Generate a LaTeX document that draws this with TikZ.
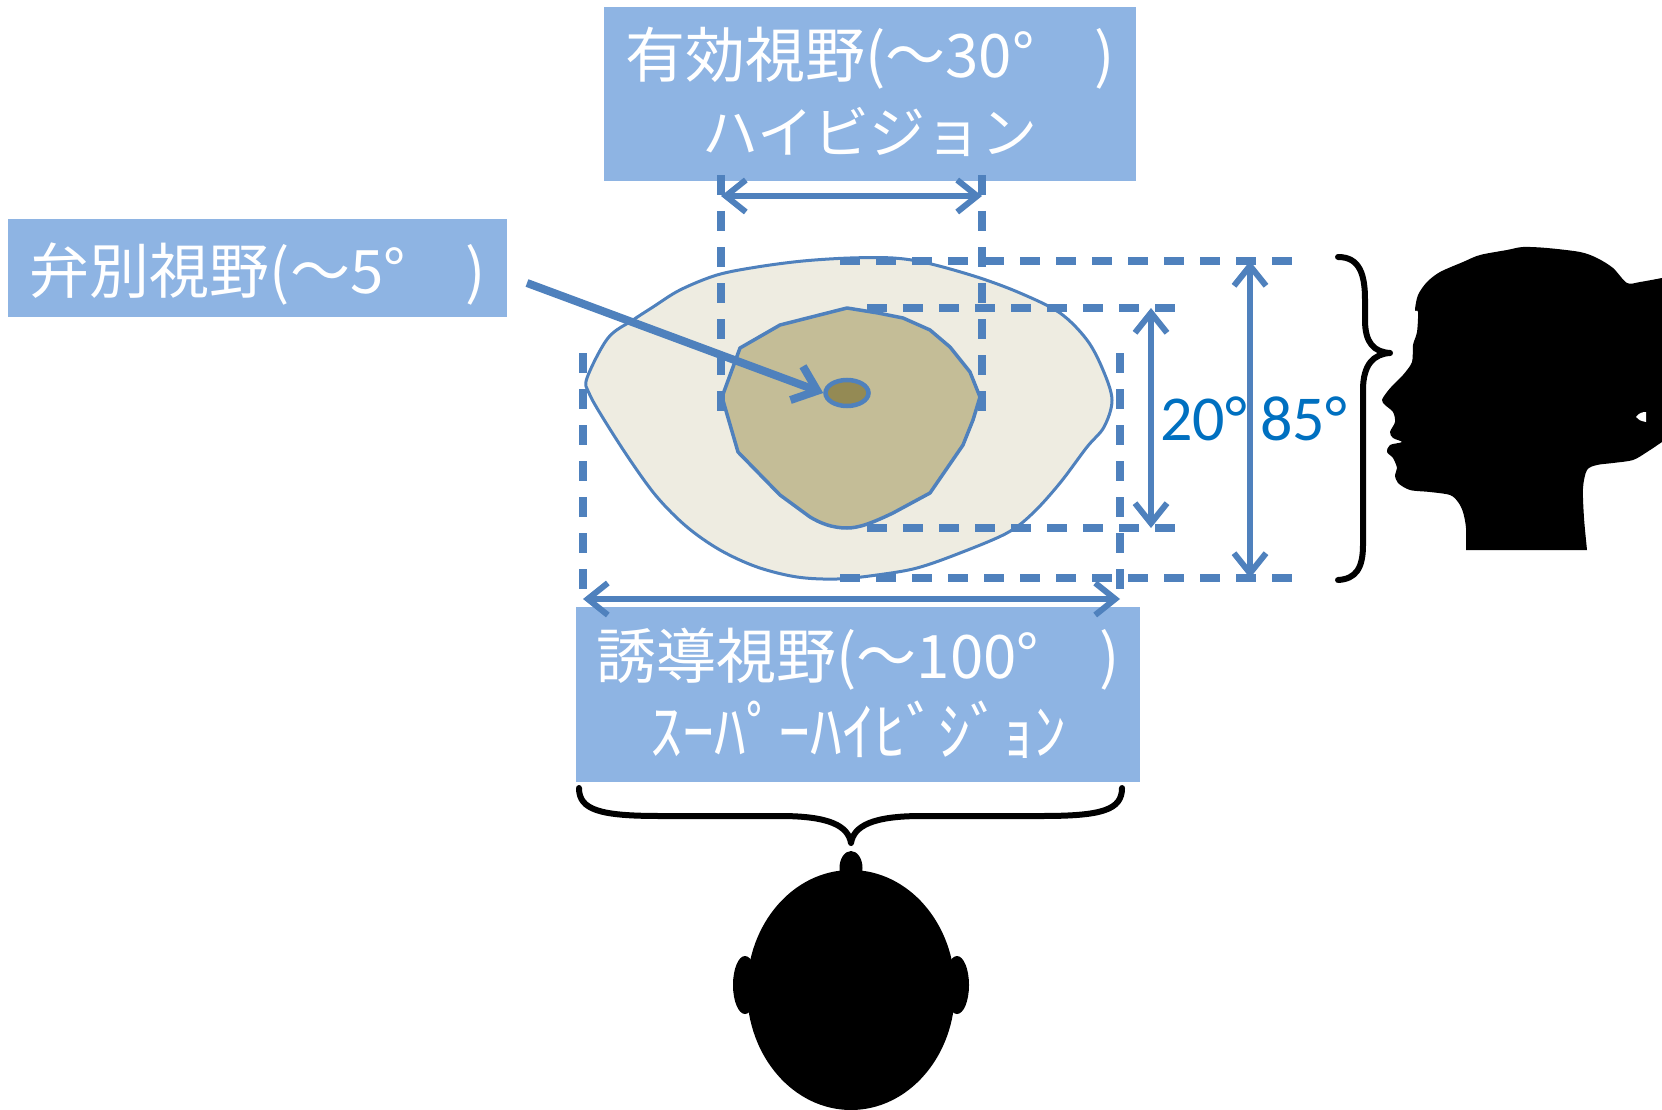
\documentclass[tikz,border=0pt]{standalone}
\usepackage{fontspec}
\newfontfamily\jpfont{Noto Sans CJK JP}
\newfontfamily\numfont{Carlito}
\usetikzlibrary{arrows.meta,shapes.geometric}
\definecolor{boxblue}{RGB}{142,180,227}
\definecolor{lineblue}{RGB}{79,129,189}
\definecolor{outerfill}{RGB}{238,236,225}
\definecolor{innerfill}{RGB}{196,189,151}
\definecolor{dotfill}{RGB}{148,138,84}
\definecolor{degblue}{RGB}{0,112,192}
\begin{document}
\begin{tikzpicture}[x=1pt,y=-1pt,
  box/.style={fill=boxblue, draw=none, inner sep=0pt},
  lbl/.style={text=white, inner sep=0pt, anchor=base},
  bigjp/.style={font={\jpfont\fontsize{60}{72}\selectfont}},
  guide/.style={draw=lineblue, line width=8pt, dash pattern=on 20pt off 16pt},
  barb/.tip={Straight Barb[length=20pt,width=32pt]},
  dim/.style={draw=lineblue, line width=6pt, barb-barb},
  pointer/.style={draw=lineblue, line width=8pt, -{Straight Barb[length=22pt,width=36pt]}},
  deg/.style={text=degblue, inner sep=0pt, anchor=base west,
    font={\numfont\fontsize{64}{70}\selectfont}},
  brace/.style={draw=black, line width=6pt, line cap=round, line join=round},
  region/.style={draw=lineblue, line join=round}]

% canvas
\fill[white] (0,0) rectangle (1662,1110);
\useasboundingbox (0,0) rectangle (1662,1110);

% label boxes
\node[box, minimum width=532pt, minimum height=174pt] (topbox) at (870,94) {};
\node[box, minimum width=499pt, minimum height=98pt] (leftbox) at (257.5,268) {};
\node[box, minimum width=564pt, minimum height=175pt] (botbox) at (858,694.5) {};

% outer (induced) field of view
\path[region, fill=outerfill, line width=3pt] plot[smooth cycle, tension=0.55] coordinates {
  (587,378) (608,338) (633,320) (653,307) (680,290) (717,275) (757,267)
  (803,261) (850,258) (893,258) (927,263) (977,277) (1020,293) (1060,313)
  (1087,340) (1103,370) (1112,400) (1104,427) (1087,447) (1060,483)
  (1033,513) (1007,533) (960,553) (917,568) (877,575) (837,579) (797,577)
  (757,567) (720,550) (687,527) (657,497) (630,460) (603,418) (589,393)};

% effective field of view
\path[region, fill=innerfill, line width=3.5pt]
  (847,308) -- (878,313) -- (903,318) -- (930,330) -- (950,347) -- (970,372)
  -- (980,397) -- (973,420) -- (963,445) -- (930,493) -- (893,513)
  .. controls (870,524) and (858,528) .. (847,528)
  .. controls (832,528) and (820,523) .. (810,517)
  -- (780,495) -- (738,452) -- (722,397) -- (740,348) -- (780,325) -- cycle;

% discriminative field of view
\node[ellipse, draw=lineblue, line width=4.5pt, fill=dotfill, inner sep=0pt,
  minimum width=43pt, minimum height=26pt] (dot) at (847,393) {};

% guide lines
\coordinate (effL) at (721,175);  \coordinate (effLb) at (721,418);
\coordinate (effR) at (982,175);  \coordinate (effRb) at (982,418);
\coordinate (indL) at (583,353);  \coordinate (indLb) at (583,597);
\coordinate (indR) at (1120,353); \coordinate (indRb) at (1120,597);
\coordinate (hiT) at (840,261);   \coordinate (hiTe) at (1298,261);
\coordinate (hiB) at (840,578);   \coordinate (hiBe) at (1298,578);
\coordinate (loT) at (867,308);   \coordinate (loTe) at (1185,308);
\coordinate (loB) at (867,528);   \coordinate (loBe) at (1185,528);
\draw[guide] (effL) -- (effLb);
\draw[guide] (effR) -- (effRb);
\draw[guide] (indL) -- (indLb);
\draw[guide] (indR) -- (indRb);
\draw[guide] (hiT) -- (hiTe);
\draw[guide] (hiB) -- (hiBe);
\draw[guide] (loT) -- (loTe);
\draw[guide] (loB) -- (loBe);

% dimension arrows
\coordinate (effA) at (721,196);  \coordinate (effB) at (982,196);
\coordinate (indA) at (583,599);  \coordinate (indB) at (1120,599);
\coordinate (v20a) at (1151,308); \coordinate (v20b) at (1151,528);
\coordinate (v85a) at (1250,261); \coordinate (v85b) at (1250,578);
\draw[dim] (effA) -- (effB);
\draw[dim] (indA) -- (indB);
\draw[dim] (v20a) -- (v20b);
\draw[dim] (v85a) -- (v85b);

% pointer to the central spot
\coordinate (ptr) at (527,283);
\draw[pointer] (ptr) -- (dot.west);

% texts
\node[lbl, bigjp] (toptxtA) at (870,78) {有効視野(～30°　)};
\node[lbl, font={\jpfont\fontsize{56}{66}\selectfont}] (toptxtB) at (870,154) {ハイビジョン};
\node[lbl, bigjp] (lefttxt) at (258,293) {弁別視野(～5°　)};
\node[lbl, bigjp] (bottxtA) at (858,678) {誘導視野(～100°　)};
\node[lbl, font={\jpfont\fontsize{64}{72}\selectfont}] (bottxtB) at (858,755) {ｽｰﾊﾟｰﾊｲﾋﾞｼﾞｮﾝ};
\node[deg] (deg20) at (1160,440) {20°};
\node[deg] (deg85) at (1260,440) {85°};

% braces
\draw[brace] (579,788) .. controls (579,810) and (600,816) .. (660,816)
  -- (780,816) .. controls (830,816) and (848,826) .. (851,843)
  .. controls (854,826) and (872,816) .. (922,816)
  -- (1042,816) .. controls (1102,816) and (1122,810) .. (1122,788);
\draw[brace] (1338,257) .. controls (1360,257) and (1365,275) .. (1365,300)
  -- (1365,320) .. controls (1365,343) and (1374,352) .. (1390,353)
  .. controls (1374,354) and (1363,364) .. (1363,390)
  -- (1363,545) .. controls (1363,568) and (1356,579) .. (1338,580);

% side-view head
\fill[black] plot[smooth, tension=0.5] coordinates {
  (1466,550) (1466,528) (1463,512) (1458,502) (1450,495) (1430,492)
  (1410,490) (1398,483) (1395,475) (1397,468) (1393,458) (1387,452)
  (1390,445) (1402,442) (1393,438) (1390,432) (1395,422) (1393,412)
  (1385,405) (1382,400) (1387,392) (1393,385) (1403,375) (1412,362)
  (1413,345) (1417,332) (1418,312) (1415,310) (1418,295) (1427,282)
  (1440,272) (1463,262) (1480,255) (1507,250) (1523,247) (1547,248)
  (1580,252) (1597,258) (1613,268) (1627,283) (1640,282) (1662,278)}
  -- plot[smooth, tension=0.5] coordinates {
  (1662,442) (1647,452) (1633,460) (1613,463) (1597,465) (1587,470)
  (1583,488) (1584,518) (1587,550)} -- cycle;
\fill[white] (1636,417) .. controls (1639,413) and (1642,412) .. (1646,412)
  -- (1646,422) .. controls (1641,421) and (1638,420) .. cycle;

% top-view head
\fill[black] (851,868) ellipse [x radius=11.5, y radius=17];
\fill[black] (745,985) ellipse [x radius=12, y radius=29];
\fill[black] (957,985) ellipse [x radius=12, y radius=29];
\fill[black] (851,990) ellipse [x radius=104, y radius=120];
\end{tikzpicture}
\end{document}
